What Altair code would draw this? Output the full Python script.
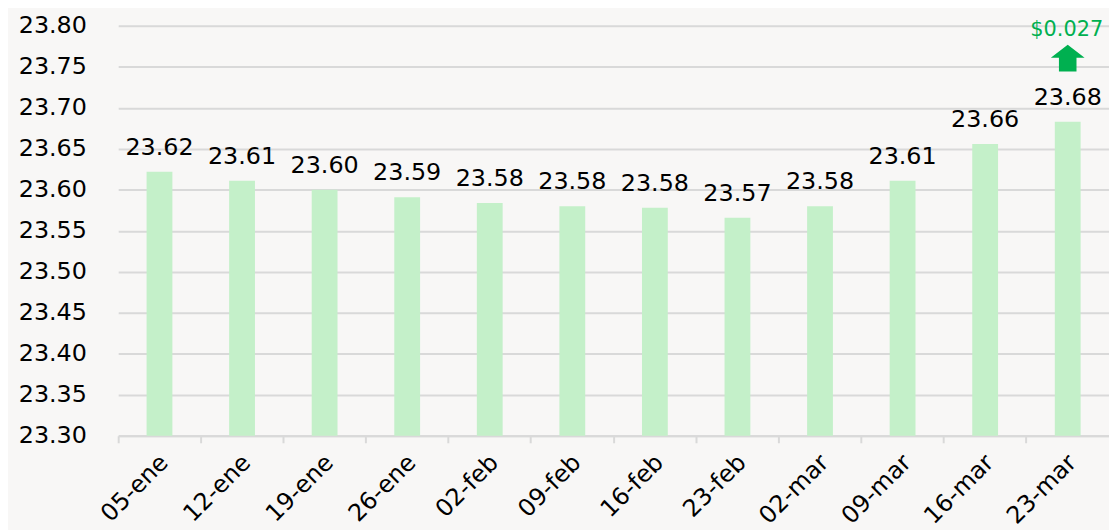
import altair as alt
import pandas as pd

categories = ["05-ene", "12-ene", "19-ene", "26-ene", "02-feb", "09-feb",
              "16-feb", "23-feb", "02-mar", "09-mar", "16-mar", "23-mar"]
values = [23.622, 23.611, 23.600, 23.591, 23.584, 23.580,
          23.578, 23.566, 23.580, 23.611, 23.656, 23.683]

annot_category = ["23-mar"]
annot_text = ["$0.027"]
annot_text_y = [23.788]
annot_arrow_y = [23.7605]

y_ticks = [23.30, 23.35, 23.40, 23.45, 23.50, 23.55, 23.60, 23.65, 23.70, 23.75, 23.80]
y_base = 23.30

df = pd.DataFrame({"fecha": categories, "valor": values})
ann = pd.DataFrame({"fecha": annot_category, "texto": annot_text,
                    "ty": annot_text_y, "ay": annot_arrow_y})

FONT = "DejaVu Sans"
W, H = 998, 413

x_scale = alt.Scale(domain=categories, paddingInner=0, paddingOuter=0)
y_scale = alt.Scale(domain=[23.30, 23.80], nice=False, zero=False)

x_enc = alt.X("fecha:N", sort=categories, scale=x_scale,
              axis=alt.Axis(title=None, labelAngle=-45, labelAlign="right",
                            labelBaseline="middle", labelFontSize=24,
                            labelFont=FONT, labelColor="#000000",
                            labelPadding=16, labelOffset=5, bandPosition=0,
                            ticks=True, tickSize=7,
                            tickColor="#d9d9d9", tickWidth=2,
                            domain=True, domainColor="#d9d9d9", domainWidth=2,
                            grid=False))
y_enc = alt.Y("valor:Q", scale=y_scale,
              axis=alt.Axis(title=None, values=y_ticks, format=".2f",
                            labelFontSize=24, labelFont=FONT,
                            labelColor="#000000", labelPadding=32,
                            ticks=False, domain=False, grid=True,
                            gridColor="#d9d9d9", gridWidth=2))

bars = alt.Chart(df).mark_bar(size=26, color="#c4f0c9").encode(
    x=x_enc, y=y_enc, y2=alt.datum(y_base))

labels = alt.Chart(df).mark_text(
    font=FONT, fontSize=24, color="#000000", baseline="alphabetic", dy=-17
).encode(
    x=alt.X("fecha:N", sort=categories, scale=x_scale),
    y=alt.Y("valor:Q", scale=y_scale),
    text=alt.Text("valor:Q", format=".2f"),
)

ann_text = alt.Chart(ann).mark_text(
    font=FONT, fontSize=21, color="#00b050", baseline="alphabetic", dx=-1
).encode(
    x=alt.X("fecha:N", sort=categories, scale=x_scale),
    y=alt.Y("ty:Q", scale=y_scale),
    text="texto:N",
)

arrow_path = ("M0,-0.79 L1,-0.02 L0.52,-0.02 L0.52,0.79 "
              "L-0.52,0.79 L-0.52,-0.02 L-1,-0.02 Z")
ann_arrow = alt.Chart(ann).mark_point(
    shape=arrow_path, size=34 * 34, filled=True, color="#00b050", opacity=1,
    strokeWidth=0
).encode(
    x=alt.X("fecha:N", sort=categories, scale=x_scale),
    y=alt.Y("ay:Q", scale=y_scale),
)

chart = alt.layer(bars, labels, ann_text, ann_arrow).properties(
    width=W, height=H,
    background="#f8f7f6",
    padding={"left": 111, "top": 16, "right": 0, "bottom": 100},
    autosize=alt.AutoSizeParams(type="none"),
).configure_view(stroke=None)

chart.save("out.html", embed_options={"renderer": "svg", "actions": False})
